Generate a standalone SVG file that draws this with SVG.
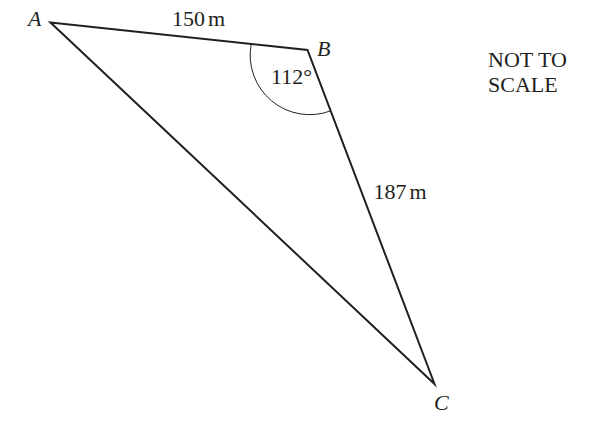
<svg xmlns="http://www.w3.org/2000/svg" width="596" height="422" viewBox="0 0 596 422">
  <style>
    .edge { fill: none; stroke: #231f20; stroke-width: 2; stroke-linejoin: miter; stroke-miterlimit: 10; }
    .arc { fill: none; stroke: #231f20; stroke-width: 1; }
    .lbl { font-family: "Liberation Serif", "Times New Roman", serif; font-size: 22px; fill: #231f20; }
    .it { font-style: italic; }
  </style>
  <rect width="596" height="422" fill="#ffffff"/>
  <g id="triangle">
    <polygon class="edge" points="50.5,22.5 307.5,50 434.5,384"/>
    <path class="arc" d="M 251.2 44.2 A 59.5 59.5 0 0 0 331 110.7"/>
  </g>
  <g id="vertex-A"><text class="lbl it" x="28" y="26">A</text></g>
  <g id="vertex-B"><text class="lbl it" x="317" y="56">B</text></g>
  <g id="vertex-C"><text class="lbl it" x="434" y="410">C</text></g>
  <g id="label-AB"><text class="lbl" x="172" y="26">150<tspan dx="3">m</tspan></text></g>
  <g id="label-BC"><text class="lbl" x="373.5" y="199">187<tspan dx="3">m</tspan></text></g>
  <g id="label-angle"><text class="lbl" x="271" y="83.5">112°</text></g>
  <g id="note">
    <text class="lbl" x="488" y="66.7">NOT TO</text>
    <text class="lbl" x="488" y="91.7">SCALE</text>
  </g>
</svg>
